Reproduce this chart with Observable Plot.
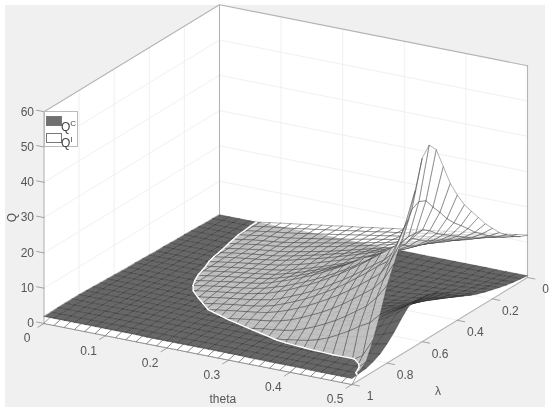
<!DOCTYPE html>
<html><head><meta charset="utf-8">
<script src="https://cdn.jsdelivr.net/npm/d3@7"></script>
<script src="https://cdn.jsdelivr.net/npm/@observablehq/plot@0.6"></script>
<style>
html,body{margin:0;padding:0;background:#fff}
#fig{position:relative;width:550px;height:411px;overflow:hidden;font-family:"Liberation Sans",Arial,sans-serif}
#bg{position:absolute;left:5px;top:5px;width:540px;height:402px;background:#f0f0f0}
#plot{position:absolute;left:0;top:0;filter:blur(.35px)}
#legend{position:absolute;left:44px;top:111px;width:32px;height:34px;background:#fff;border:1px solid #bbb;font-size:12px;color:#444;filter:blur(.3px)}
#legend i{position:absolute;left:1px;width:14px;height:8px;border:1px solid #777}
#legend span{position:absolute;left:16px;line-height:12px}
#legend sup{font-size:8px;line-height:0}
</style></head><body>
<div id="fig"><div id="bg"></div><div id="plot"></div>
<div id="legend"><i style="top:4px;background:#707070"></i><span style="top:9px">Q<sup>C</sup></span><i style="top:21px;background:#fff"></i><span style="top:25px">Q<sup>I</sup></span></div>
</div>
<script>
const thetaTicks=[0,0.1,0.2,0.3,0.4,0.5];
const lambdaTicks=[0,0.2,0.4,0.6,0.8,1];
const qTicks=[0,10,20,30,40,50,60];
const thetaLines=d3.range(31).map(i=>i/60);
const lambdaLines=d3.range(26).map(j=>j/25);
// Q^C, one row per lambda line, one value per theta line
const QC=[
[.5,.5,.5,.5,.5,.5,.5,.5,.5,.5,.5,.5,.5,.5,.5,.5,.5,.5,.5,.5,.5,.5,.5,.5,.5,.5,.5,.5,.5,.5,.5],
[.6,.6,.6,.6,.6,.6,.6,.6,.6,.6,.6,.6,.6,.6,.6,.6,.6,.6,.6,.6,.6,.6,.6,.6,.6,.7,.7,.7,.7,.8,.8],
[.6,.6,.6,.6,.6,.6,.6,.6,.6,.6,.6,.6,.6,.6,.6,.6,.6,.6,.6,.6,.6,.6,.6,.7,.7,.7,.8,.8,.9,1,1.1],
[.7,.7,.7,.7,.7,.7,.7,.7,.7,.7,.7,.7,.7,.7,.7,.7,.7,.7,.7,.7,.7,.7,.8,.8,.8,.9,1,1.1,1.2,1.3,1.5],
[.8,.8,.8,.8,.8,.8,.8,.8,.8,.8,.8,.8,.8,.8,.8,.8,.8,.8,.8,.8,.8,.9,.9,.9,1,1.1,1.2,1.4,1.5,1.8,2],
[.9,.9,.9,.9,.9,.9,.9,.9,.9,.9,.9,.9,.9,.9,.9,.9,.9,.9,.9,.9,.9,1,1,1.1,1.2,1.3,1.5,1.7,2,2.3,2.6],
[.9,.9,.9,.9,.9,.9,.9,.9,.9,.9,.9,.9,.9,.9,.9,.9,.9,.9,.9,.9,1,1,1.1,1.2,1.3,1.5,1.7,2,2.3,2.7,3.2],
[1,1,1,1,1,1,1,1,1,1,1,1,1,1,1,1,1,1,1,1,1.1,1.1,1.2,1.3,1.5,1.8,2,2.4,2.8,3.3,3.9],
[1.1,1.1,1.1,1.1,1.1,1.1,1.1,1.1,1.1,1.1,1.1,1.1,1.1,1.1,1.1,1.1,1.1,1.1,1.1,1.1,1.2,1.3,1.4,1.5,1.7,2,2.4,2.8,3.3,4,4.7],
[1.1,1.1,1.1,1.1,1.1,1.1,1.1,1.1,1.1,1.1,1.1,1.1,1.1,1.1,1.1,1.1,1.1,1.1,1.1,1.1,1.2,1.3,1.5,1.7,1.9,2.3,2.7,3.3,4,4.8,5.7],
[1.2,1.2,1.2,1.2,1.2,1.2,1.2,1.2,1.2,1.2,1.2,1.2,1.2,1.2,1.2,1.2,1.2,1.2,1.2,1.2,1.4,1.5,1.7,1.9,2.2,2.7,3.2,3.9,4.8,5.8,7],
[1.3,1.3,1.3,1.3,1.3,1.3,1.3,1.3,1.3,1.3,1.3,1.3,1.3,1.3,1.3,1.3,1.3,1.3,1.3,1.3,1.5,1.7,1.9,2.2,2.6,3.2,3.8,4.7,5.8,7,8.5],
[1.4,1.4,1.4,1.4,1.4,1.4,1.4,1.4,1.4,1.4,1.4,1.4,1.4,1.4,1.4,1.4,1.4,1.4,1.4,1.4,1.7,1.8,2.1,2.4,3,3.6,4.4,5.4,6.7,8.3,10],
[1.4,1.4,1.4,1.4,1.4,1.4,1.4,1.4,1.4,1.4,1.4,1.4,1.4,1.4,1.4,1.4,1.4,1.4,1.4,1.4,1.7,1.9,2.2,2.6,3.2,4,4.9,6,7.5,9.3,11.3],
[1.5,1.5,1.5,1.5,1.5,1.5,1.5,1.5,1.5,1.5,1.5,1.5,1.5,1.5,1.5,1.5,1.5,1.5,1.5,1.5,1.8,2,2.4,2.8,3.4,4.3,5.2,6.5,8.1,10,12.2],
[1.6,1.6,1.6,1.6,1.6,1.6,1.6,1.6,1.6,1.6,1.6,1.6,1.6,1.6,1.6,1.6,1.6,1.6,1.6,1.6,1.9,2.2,2.5,2.9,3.6,4.5,5.5,6.8,8.4,10.4,12.6],
[1.7,1.7,1.7,1.7,1.7,1.7,1.7,1.7,1.7,1.7,1.7,1.7,1.7,1.7,1.7,1.7,1.7,1.7,1.7,1.7,2,2.3,2.6,3,3.7,4.6,5.6,6.9,8.6,10.6,12.8],
[1.8,1.8,1.8,1.8,1.8,1.8,1.8,1.8,1.8,1.8,1.8,1.8,1.8,1.8,1.8,1.8,1.8,1.8,1.8,1.8,2,2.2,2.5,3,3.6,4.4,5.4,6.6,8.2,10.1,12.2],
[1.9,1.9,1.9,1.9,1.9,1.9,1.9,1.9,1.9,1.9,1.9,1.9,1.9,1.9,1.9,1.9,1.9,1.9,1.9,1.9,2,2.2,2.5,2.8,3.3,3.9,4.7,5.7,6.9,8.4,10],
[2,2,2,2,2,2,2,2,2,2,2,2,2,2,2,2,2,2,2,2,2.1,2.2,2.3,2.6,2.9,3.4,3.9,4.5,5.4,6.4,7.5],
[2.1,2.1,2.1,2.1,2.1,2.1,2.1,2.1,2.1,2.1,2.1,2.1,2.1,2.1,2.1,2.1,2.1,2.1,2.1,2.1,2.1,2.2,2.3,2.4,2.6,2.9,3.2,3.6,4.2,4.8,5.5],
[2.1,2.1,2.1,2.1,2.1,2.1,2.1,2.1,2.1,2.1,2.1,2.1,2.1,2.1,2.1,2.1,2.1,2.1,2.1,2.1,2.1,2.1,2.1,2.2,2.3,2.5,2.6,2.8,3.1,3.4,3.8],
[2.1,2.1,2.1,2.1,2.1,2.1,2.1,2.1,2.1,2.1,2.1,2.1,2.1,2.1,2.1,2.1,2.1,2.1,2.1,2.1,2.1,2.1,2.2,2.2,2.2,2.3,2.3,2.4,2.5,2.7,2.8],
[2.1,2.1,2.1,2.1,2.1,2.1,2.1,2.1,2.1,2.1,2.1,2.1,2.1,2.1,2.1,2.1,2.1,2.1,2.1,2.1,2.1,2.1,2.1,2.1,2.1,2.1,2.1,2.1,2.1,2.1,2.1],
[2,2,2,2,2,2,2,2,2,2,2,2,2,2,2,2,2,2,2,2,2,2,2,2,2,2,1.9,1.9,1.9,1.9,1.9],
[2,2,2,2,2,2,2,2,2,2,1.9,1.9,1.9,1.9,1.9,1.9,1.9,1.9,1.9,1.9,1.8,1.8,1.8,1.8,1.8,1.8,1.7,1.7,1.7,1.7,1.7]
];
// Q^I, same layout
const QI=[
[0,0,0,.23,.68,1.13,1.58,2,2.4,2.9,3.3,3.7,4.2,4.6,5,5.5,5.9,6.4,6.8,7.2,7.7,8.1,8.5,9,9.4,9.8,10.3,10.7,11.1,11.6,12],
[0,0,0,.29,.74,1.2,1.6,2,2.4,2.9,3.3,3.8,4.2,4.7,5.2,5.6,6.1,6.6,7,7.5,8,8.5,8.9,9.4,9.9,10.4,10.9,11.3,11.8,12.3,12.8],
[0,0,0,.24,.69,1.14,1.6,2,2.4,2.8,3.3,3.8,4.3,4.8,5.3,5.8,6.3,6.8,7.3,7.8,8.4,8.9,9.4,10,10.5,11,11.6,12.1,12.7,13.3,14],
[0,0,.07,.3,.75,1.2,1.65,2,2.3,2.7,3.2,3.7,4.2,4.7,5.3,5.8,6.4,7,7.5,8.1,8.7,9.3,9.9,10.5,11.2,11.8,12.4,13,13.8,14.6,15.7],
[0,0,0,.3,.75,1.2,1.65,2,2.3,2.7,3.2,3.7,4.3,4.8,5.4,6,6.5,7.2,7.8,8.4,9.1,9.7,10.4,11,11.7,12.4,13.1,13.9,14.9,16.1,17.6],
[0,0,0,.3,.77,1.2,1.67,2.1,2.5,2.8,3.2,3.8,4.4,5,5.6,6.2,6.9,7.5,8.2,8.9,9.6,10.4,11.1,11.9,12.7,13.4,14.2,15.1,16.2,17.9,20],
[0,0,0,.22,.67,1.12,1.57,2,2.4,2.8,3.1,3.6,4.2,4.8,5.4,6.1,6.8,7.6,8.3,9.1,9.9,10.7,11.6,12.5,13.3,14.2,15.1,16.2,17.6,19.6,22.5],
[0,0,0,.24,.68,1.13,1.58,2.03,2.4,2.8,3.1,3.6,4.2,4.9,5.6,6.3,7.1,7.8,8.7,9.5,10.4,11.3,12.2,13.2,14.2,15.2,16.2,17.5,19.1,21.8,25.5],
[0,0,0,.25,.7,1.14,1.6,2.04,2.4,2.8,3.2,3.6,4.2,4.9,5.7,6.4,7.2,8.1,9,9.9,10.9,11.8,12.8,13.9,15,16.1,17.2,18.7,20.5,23.9,28.5],
[0,0,0,.15,.6,1.05,1.5,1.95,2.4,2.8,3.2,3.6,4,4.7,5.4,6.2,7.1,8,8.9,9.9,10.9,12,13.1,14.3,15.5,16.7,18,19.8,22,25.9,31.5],
[0,0,0,.08,.53,.98,1.43,1.88,2.3,2.7,3.1,3.5,3.9,4.4,5.1,6,6.8,7.8,8.8,9.8,11,12.1,13.3,14.6,16,17.4,18.8,20.8,23.5,28.3,35.5],
[0,0,0,0,.49,.94,1.39,1.84,2.3,2.7,3.1,3.5,3.9,4.4,5.2,6,7,8,9.1,10.2,11.4,12.7,14,15.4,16.9,18.4,20,22.3,25.5,31.3,40],
[0,0,0,0,.46,.9,1.36,1.8,2.25,2.7,3.1,3.5,3.9,4.4,5.2,6.1,7.1,8.2,9.4,10.7,12,13.4,14.9,16.5,18.1,19.8,21.6,24,27,34,46],
[0,0,0,0,.28,.73,1.18,1.63,2.08,2.5,3,3.4,3.8,4.3,5.1,6.1,7.1,8.3,9.5,10.9,12.4,13.9,15.6,17.3,18.5,20,21.5,23.5,27.3,37,52],
[0,0,0,0,.15,.6,1.05,1.5,1.95,2.4,2.85,3.2,3.6,4.1,4.7,5.6,6.5,7.7,8.9,10.2,11.6,13.2,14.8,16.6,18.4,20.3,22.3,24.4,27.5,38,54.5],
[0,0,0,0,0,.4,.84,1.28,1.74,2.2,2.6,3,3.4,3.8,4.4,5.1,6.1,7.2,8.5,9.8,11.3,12.9,14.6,16.5,18.4,20.5,22.7,24.8,27,37,52],
[0,0,0,0,0,0,.44,.89,1.34,1.79,2.24,2.7,3.1,3.5,3.9,4.4,5,6,7.2,8.4,9.8,11.3,13,14.7,16.6,18.6,20.7,22.7,25.5,33.5,44],
[0,0,0,0,0,0,0,.45,.9,1.35,1.8,2.25,2.7,3.1,3.5,3.9,4.4,5.2,6.3,7.5,8.8,10.3,11.9,13.6,15.5,17.6,19.7,22,24,30,37],
[0,0,0,0,0,0,0,0,.46,.91,1.36,1.81,2.26,2.7,3.1,3.5,3.9,4.4,5.2,6.2,7.4,8.7,10.2,11.8,13.5,15.4,17.4,19.6,21.8,26,32],
[0,0,0,0,0,0,0,0,0,0,.38,.83,1.28,1.73,2.18,2.63,3.05,3.4,3.8,4.4,5.3,6.5,7.8,9.2,10.8,12.6,14.6,16.7,18.8,22,27],
[0,0,0,0,0,0,0,0,0,0,0,0,.08,.53,.98,1.43,1.88,2.33,2.75,3.1,3.5,4.1,5.1,6.3,7.7,9.2,11,13,15,18,22],
[0,0,0,0,0,0,0,0,0,0,0,0,0,0,0,0,.44,.89,1.34,1.79,2.24,2.65,3.1,3.6,4.4,5.5,7,8.6,10.5,12,15],
[0,0,0,0,0,0,0,0,0,0,0,0,0,0,0,0,0,0,0,0,.5,.7,.9,1.1,1.3,1.5,1.7,1.9,2.2,4,9],
[0,0,0,0,0,0,0,0,0,0,0,0,0,0,0,0,0,0,0,0,0,0,0,0,0,0,0,0,.4,1.2,4],
[.6,.6,.6,.6,.6,.6,.6,.6,.6,.6,.6,.6,.6,.6,.6,.6,.6,.6,.6,.6,.6,.6,.6,.6,.6,.6,.6,.6,.6,.6,2.5],
[0,0,0,0,0,0,0,0,0,0,0,0,0,0,0,0,0,0,0,0,0,0,0,0,0,0,0,0,0,0,0]
];
// view of the 3-D box: screen position of the origin and of one unit on each axis
const view={x0:219,y0:216,xT:616,yT:122,xL:-175.5,yL:107,yQ:3.53};
const px=([t,l,q])=>view.x0+view.xT*t+view.xL*l;
const py=([t,l,q])=>view.y0+view.yT*t+view.yL*l-view.yQ*q;
const P=(arr,opt)=>Plot.line(arr,{x:d=>px(d.p),y:d=>py(d.p),z:"id",curve:"linear-closed",...opt});
const Seg=(arr,opt)=>Plot.line(arr,{x:d=>px(d.p),y:d=>py(d.p),z:"id",...opt});
let nid=0;
function poly(points,out){const id=nid++;points.forEach(p=>out.push({id,p}));}
const strip=[],surfC=[],surfI=[],cutI=[];
const corner=(i,j)=>({t:thetaLines[i],l:lambdaLines[j],q:QI[j][i],d:QI[j][i]-QC[j][i]});
for(let j=0;j<25;j++)for(let i=0;i<30;i++){
  poly([[i,j],[i+1,j],[i+1,j+1],[i,j+1]].map(([a,b])=>[thetaLines[a],lambdaLines[b],QC[b][a]]),surfC);
  const c=[corner(i,j),corner(i+1,j),corner(i+1,j+1),corner(i,j+1)];
  if(j===24)poly(c.map(k=>[k.t,k.l,k.q]),strip);
  const o=[],cut=[];
  for(let k=0;k<4;k++){const a=c[k],b=c[(k+1)%4];
    if(a.d>=0)o.push([a.t,a.l,a.q]);
    if((a.d>=0)!==(b.d>=0)){const u=a.d/(a.d-b.d),m=[a.t+u*(b.t-a.t),a.l+u*(b.l-a.l),a.q+u*(b.q-a.q)];o.push(m);cut.push(m);}
  }
  if(o.length>=3)poly(o,surfI);
  if(cut.length===2)poly(cut,cutI);
}
const walls=[],wallEdges=[],grid=[];
const T1=.5,L1=1,Q1=60;
poly([[0,0,0],[0,L1,0],[0,L1,Q1],[0,0,Q1]],walls);
poly([[0,0,0],[T1,0,0],[T1,0,Q1],[0,0,Q1]],walls);
poly([[0,0,0],[T1,0,0],[T1,L1,0],[0,L1,0]],walls);
[[[0,L1,0],[0,L1,Q1]],[[0,0,0],[0,0,Q1]],[[T1,0,0],[T1,0,Q1]],[[0,L1,Q1],[0,0,Q1]],[[0,0,Q1],[T1,0,Q1]],[[0,L1,0],[T1,L1,0]],[[T1,L1,0],[T1,0,0]]].forEach(e=>poly(e,wallEdges));
qTicks.slice(1,-1).forEach(q=>{poly([[0,L1,q],[0,0,q]],grid);poly([[0,0,q],[T1,0,q]],grid);});
thetaTicks.slice(1,-1).forEach(t=>{poly([[t,0,0],[t,0,Q1]],grid);poly([[t,0,0],[t,L1,0]],grid);});
lambdaTicks.slice(1,-1).forEach(l=>{poly([[0,l,0],[0,l,Q1]],grid);poly([[0,l,0],[T1,l,0]],grid);});
const ticks=[];
thetaTicks.forEach(t=>poly([[t,L1,0],[t,L1+.035,0]],ticks));
lambdaTicks.forEach(l=>poly([[T1,l,0],[T1+.012,l,0]],ticks));
qTicks.forEach(q=>poly([[0,L1,q],[-.012,L1,q]],ticks));
const txt={fontFamily:"Liberation Sans, Arial, sans-serif",fontSize:12,fill:"#555"};
const chart=Plot.plot({width:550,height:411,margin:0,style:{background:"transparent"},
  x:{domain:[0,550],range:[0,550],axis:null},y:{domain:[0,411],range:[0,411],axis:null},
  marks:[
    P(walls,{fill:"white"}),
    Seg(grid,{stroke:"#ececec",strokeWidth:.8}),
    Seg(wallEdges,{stroke:"#b4b4b4",strokeWidth:1.1}),
    Seg(ticks,{stroke:"#999",strokeWidth:.9}),
    P(strip,{fill:"white",stroke:"#777",strokeWidth:.7}),
    P(surfC,{fill:"#5a5a5a",fillOpacity:.92,stroke:"#222",strokeOpacity:.55,strokeWidth:.6}),
    P(surfI,{fill:"white",fillOpacity:.6,stroke:"#444",strokeOpacity:.7,strokeWidth:.6}),
    Seg(cutI,{stroke:"white",strokeWidth:1.4}),
    Plot.text(thetaTicks,{x:t=>px([t,L1,0]),y:t=>py([t,L1,0]),text:t=>String(t),dx:-17,dy:15,...txt}),
    Plot.text(lambdaTicks,{x:l=>px([T1,l,0]),y:l=>py([T1,l,0]),text:l=>String(l),dx:18,dy:12,...txt}),
    Plot.text(qTicks,{x:q=>px([0,L1,q]),y:q=>py([0,L1,q]),text:q=>String(q),dx:-10,textAnchor:"end",...txt}),
    Plot.text(["theta"],{x:()=>px([.3,L1,0]),y:()=>py([.3,L1,0]),text:d=>d,dx:-6,dy:39,...txt}),
    Plot.text(["λ"],{x:()=>px([T1,.8,0]),y:()=>py([T1,.8,0]),text:d=>d,dx:51,dy:28,...txt}),
    Plot.text(["Q"],{x:()=>px([0,L1,30]),y:()=>py([0,L1,30]),text:d=>d,dx:-32,rotate:-90,...txt})
  ]});
document.getElementById("plot").append(chart);
</script>
</body></html>
